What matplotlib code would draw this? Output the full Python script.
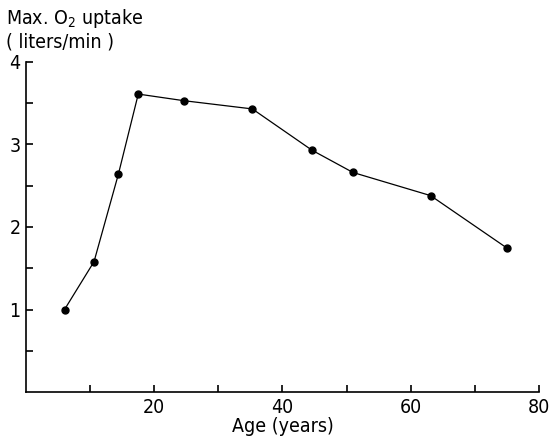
import numpy as np
import matplotlib
matplotlib.use("Agg")
import matplotlib.pyplot as plt
from matplotlib import font_manager

plt.rcParams['font.family'] = ['DejaVu Sans']
plt.rcParams['font.stretch'] = 'condensed'
plt.rcParams['mathtext.default'] = 'regular'
print(font_manager.findfont(font_manager.FontProperties(family='DejaVu Sans', stretch='condensed')))

# Maximal oxygen uptake by age
age = [6.0, 10.6, 14.4, 17.5, 24.6, 35.3, 44.6, 51.0, 63.1, 75.1]
o2_uptake = [1.00, 1.58, 2.64, 3.61, 3.53, 3.43, 2.93, 2.66, 2.38, 1.74]

x_ticks = np.arange(10, 81, 10)
x_labels = ['', '20', '', '40', '', '60', '', '80']
y_ticks = np.arange(0.5, 4.01, 0.5)
y_labels = ['', '1', '', '2', '', '3', '', '4']

fig = plt.figure(figsize=(5.55, 4.42), dpi=100)
ax = fig.add_axes([0.047, 0.113, 0.924, 0.747])

ax.plot(age, o2_uptake, color='black', linewidth=0.9,
        marker='o', markersize=5, markerfacecolor='black', markeredgecolor='black')

ax.set_xlim(0, 80)
ax.set_ylim(0, 4)
ax.spines['top'].set_visible(False)
ax.spines['right'].set_visible(False)
ax.spines['left'].set_linewidth(1.2)
ax.spines['bottom'].set_linewidth(1.2)

ax.set_xticks(x_ticks)
ax.set_xticklabels(x_labels)
ax.set_yticks(y_ticks)
ax.set_yticklabels(y_labels)
ax.tick_params(direction='in', length=5, width=1.2, labelsize=14, pad=4)

ax.set_xlabel('Age (years)', fontsize=14, labelpad=0)

fig.text(0.011, 0.958, r'Max. O$_2$ uptake', fontsize=14, va='center', ha='left')
fig.text(0.011, 0.905, '( liters/min )', fontsize=14, va='center', ha='left')

plt.savefig('out.png', dpi=100)
